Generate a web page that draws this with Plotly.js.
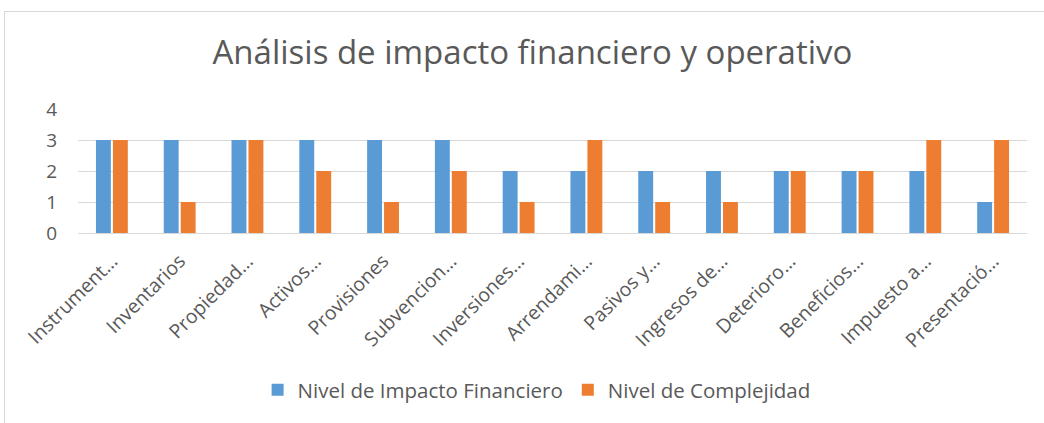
<!DOCTYPE html>
<html>
<head>
<meta charset="utf-8">
<script src="https://cdn.plot.ly/plotly-3.0.1.min.js"></script>
<style>
html,body{margin:0;padding:0;background:#fff;overflow:hidden;}
#wrap{position:relative;width:1044px;height:423px;}
#chart{width:1044px;height:423px;}
#frame{position:absolute;left:4px;top:11px;width:1100px;height:500px;border:1px solid #d9d9d9;pointer-events:none;box-sizing:border-box;}
</style>
</head>
<body>
<div id="wrap"><div id="chart"></div><div id="frame"></div></div>
<script>
const categories = ["Instrument…","Inventarios","Propiedad…","Activos…","Provisiones","Subvencion…","Inversiones…","Arrendami…","Pasivos y…","Ingresos de…","Deterioro…","Beneficios…","Impuesto a…","Presentació…"];
const impactoFinanciero = [3,3,3,3,3,3,2,2,2,2,2,2,2,1];
const complejidad = [3,1,3,2,1,2,1,3,1,1,2,2,3,3];
const seriesNames = ["Nivel de Impacto Financiero","Nivel de Complejidad"];
const yTicks = [0,1,2,3,4];

const font = "Open Sans, Noto Sans, sans-serif";
const traces = [
  {type:"bar", name:seriesNames[0], x:categories, y:impactoFinanciero, marker:{color:"#5B9BD5"}, hoverinfo:"none"},
  {type:"bar", name:seriesNames[1], x:categories, y:complejidad, marker:{color:"#ED7D31"}, hoverinfo:"none"}
];
const layout = {
  width:1044, height:423,
  margin:{l:78, r:17, t:109, b:190},
  paper_bgcolor:"#fff", plot_bgcolor:"#fff",
  font:{family:font, color:"#595959"},
  title:{text:"Análisis de impacto financiero y operativo", font:{family:font, size:33, color:"#595959"}, x:0.51, xanchor:"center", y:0.875, yanchor:"middle", xref:"container", yref:"container"},
  barmode:"group", bargap:0.5, bargroupgap:0.12,
  xaxis:{type:"category", tickangle:-45, tickfont:{size:19.5, color:"#595959"}, showgrid:false, showline:true, linecolor:"#d9d9d9", linewidth:1, ticks:"", ticklabelstandoff:8, automargin:false},
  yaxis:{range:[0,4], tickvals:yTicks, tickfont:{size:19, color:"#595959"}, showgrid:true, gridcolor:"#d9d9d9", gridwidth:1, zeroline:false, showline:false, ticks:"", ticklabelstandoff:20, automargin:false},
  showlegend:true,
  legend:{orientation:"h", xref:"container", yref:"container", x:0.514, xanchor:"center", y:0.078, yanchor:"middle", font:{size:20.5, color:"#595959"}, itemwidth:30, traceorder:"normal"}
};
Plotly.newPlot("chart", traces, layout, {displayModeBar:false, staticPlot:true});
</script>
</body>
</html>
